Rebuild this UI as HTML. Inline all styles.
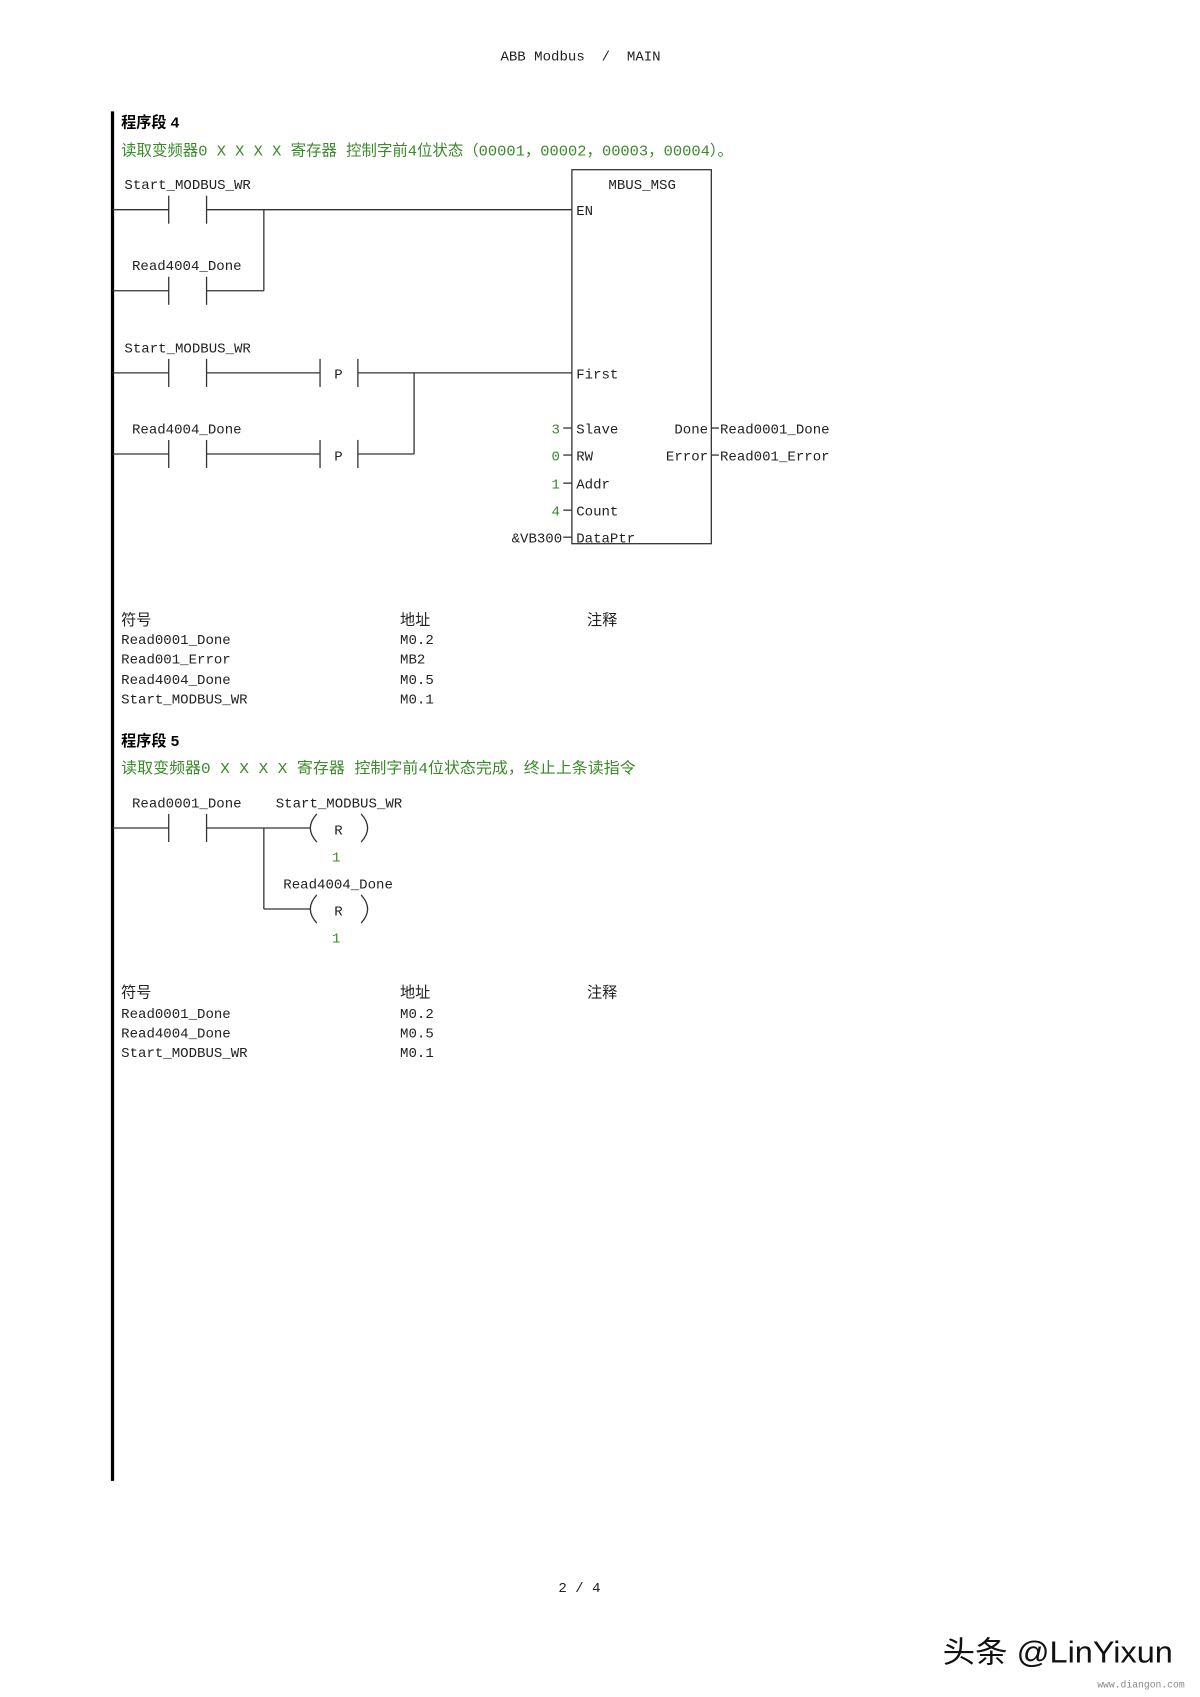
<!DOCTYPE html>
<html><head><meta charset="utf-8"><style>
html,body{margin:0;padding:0;background:#fff}
svg{display:block}
text{font-family:"Liberation Mono","Noto Sans CJK SC",monospace;font-size:13px;fill:#222}
.g{fill:#3a8a2a}
.b{font-family:"Liberation Sans","Noto Sans CJK SC",sans-serif;font-weight:bold;font-size:14px;fill:#000}
.cn{font-family:"Liberation Mono","Noto Sans CJK SC",monospace;font-size:14px}
line,path,rect{stroke:#333;stroke-width:1.2;fill:none}
</style></head><body>
<svg width="1200" height="1697" viewBox="0 0 1110 1570" xmlns="http://www.w3.org/2000/svg">
<text x="537" y="56" text-anchor="middle">ABB Modbus&#160;&#160;/&#160;&#160;MAIN</text>
<line x1="104" y1="103" x2="104" y2="1370" style="stroke:#000;stroke-width:3"/>

<text class="b" x="112" y="118">程序段 4</text>
<text class="g cn" x="112" y="144" textLength="566" lengthAdjust="spacingAndGlyphs">读取变频器0 X X X X 寄存器 控制字前4位状态（00001，00002，00003，00004）。</text>

<!-- rung EN -->
<text x="115" y="175">Start_MODBUS_WR</text>
<line x1="104" y1="194" x2="156" y2="194"/><line x1="156" y1="181" x2="156" y2="207"/><line x1="191" y1="181" x2="191" y2="207"/>
<line x1="191" y1="194" x2="529" y2="194"/>
<text x="122" y="250">Read4004_Done</text>
<line x1="104" y1="269" x2="156" y2="269"/><line x1="156" y1="256" x2="156" y2="282"/><line x1="191" y1="256" x2="191" y2="282"/>
<line x1="191" y1="269" x2="244" y2="269"/><line x1="244" y1="194" x2="244" y2="269"/>

<!-- rung First -->
<text x="115" y="326">Start_MODBUS_WR</text>
<line x1="104" y1="345" x2="156" y2="345"/><line x1="156" y1="332" x2="156" y2="358"/><line x1="191" y1="332" x2="191" y2="358"/>
<line x1="191" y1="345" x2="296" y2="345"/><line x1="296" y1="332" x2="296" y2="358"/><line x1="331" y1="332" x2="331" y2="358"/>
<text x="313" y="350" text-anchor="middle">P</text>
<line x1="331" y1="345" x2="529" y2="345"/>
<text x="122" y="401">Read4004_Done</text>
<line x1="104" y1="420" x2="156" y2="420"/><line x1="156" y1="407" x2="156" y2="433"/><line x1="191" y1="407" x2="191" y2="433"/>
<line x1="191" y1="420" x2="296" y2="420"/><line x1="296" y1="407" x2="296" y2="433"/><line x1="331" y1="407" x2="331" y2="433"/>
<text x="313" y="426" text-anchor="middle">P</text>
<line x1="331" y1="420" x2="383" y2="420"/><line x1="383" y1="345" x2="383" y2="420"/>

<!-- box -->
<rect x="529" y="157" width="129" height="346"/>
<text x="594" y="175" text-anchor="middle">MBUS_MSG</text>
<text x="533" y="199">EN</text>
<text x="533" y="350">First</text>
<text x="533" y="401">Slave</text>
<text x="533" y="426">RW</text>
<text x="533" y="452">Addr</text>
<text x="533" y="477">Count</text>
<text x="533" y="502">DataPtr</text>
<line x1="521" y1="396" x2="529" y2="396"/><line x1="521" y1="421" x2="529" y2="421"/><line x1="521" y1="447" x2="529" y2="447"/><line x1="521" y1="472" x2="529" y2="472"/><line x1="521" y1="497" x2="529" y2="497"/>
<text class="g" x="518" y="401" text-anchor="end">3</text>
<text class="g" x="518" y="426" text-anchor="end">0</text>
<text class="g" x="518" y="452" text-anchor="end">1</text>
<text class="g" x="518" y="477" text-anchor="end">4</text>
<text x="520" y="502" text-anchor="end">&amp;VB300</text>
<text x="655" y="401" text-anchor="end">Done</text>
<text x="655" y="426" text-anchor="end">Error</text>
<line x1="658" y1="396" x2="665" y2="396"/><line x1="658" y1="421" x2="665" y2="421"/>
<text x="666" y="401">Read0001_Done</text>
<text x="666" y="426">Read001_Error</text>

<!-- table 1 -->
<text class="cn" x="112" y="578">符号</text><text class="cn" x="370" y="578">地址</text><text class="cn" x="543" y="578">注释</text>
<text x="112" y="596">Read0001_Done</text><text x="370" y="596">M0.2</text>
<text x="112" y="614">Read001_Error</text><text x="370" y="614">MB2</text>
<text x="112" y="633">Read4004_Done</text><text x="370" y="633">M0.5</text>
<text x="112" y="651">Start_MODBUS_WR</text><text x="370" y="651">M0.1</text>

<text class="b" x="112" y="690">程序段 5</text>
<text class="g cn" x="112" y="715" textLength="476" lengthAdjust="spacingAndGlyphs">读取变频器0 X X X X 寄存器 控制字前4位状态完成，终止上条读指令</text>

<!-- rung 5 -->
<text x="122" y="747">Read0001_Done</text>
<text x="255" y="747">Start_MODBUS_WR</text>
<line x1="104" y1="766" x2="156" y2="766"/><line x1="156" y1="753" x2="156" y2="779"/><line x1="191" y1="753" x2="191" y2="779"/>
<line x1="191" y1="766" x2="287" y2="766"/>
<path d="M293 753 Q281 766 293 779"/><path d="M334 753 Q346 766 334 779"/>
<text x="313" y="772" text-anchor="middle">R</text>
<text class="g" x="311" y="797" text-anchor="middle">1</text>
<line x1="244" y1="766" x2="244" y2="841"/><line x1="244" y1="841" x2="287" y2="841"/>
<text x="262" y="822">Read4004_Done</text>
<path d="M293 828 Q281 841 293 854"/><path d="M334 828 Q346 841 334 854"/>
<text x="313" y="847" text-anchor="middle">R</text>
<text class="g" x="311" y="872" text-anchor="middle">1</text>

<!-- table 2 -->
<text class="cn" x="112" y="923">符号</text><text class="cn" x="370" y="923">地址</text><text class="cn" x="543" y="923">注释</text>
<text x="112" y="942">Read0001_Done</text><text x="370" y="942">M0.2</text>
<text x="112" y="960">Read4004_Done</text><text x="370" y="960">M0.5</text>
<text x="112" y="978">Start_MODBUS_WR</text><text x="370" y="978">M0.1</text>

<text x="536" y="1473" text-anchor="middle">2 / 4</text>
<text x="872" y="1538" textLength="213" lengthAdjust="spacingAndGlyphs" style="font-family:'Liberation Sans','Noto Sans CJK SC',sans-serif;font-size:28px;fill:#111">头条 @LinYixun</text>
<text x="1015" y="1561" style="font-size:9px;fill:#888">www.diangon.com</text>
</svg>
</body></html>
